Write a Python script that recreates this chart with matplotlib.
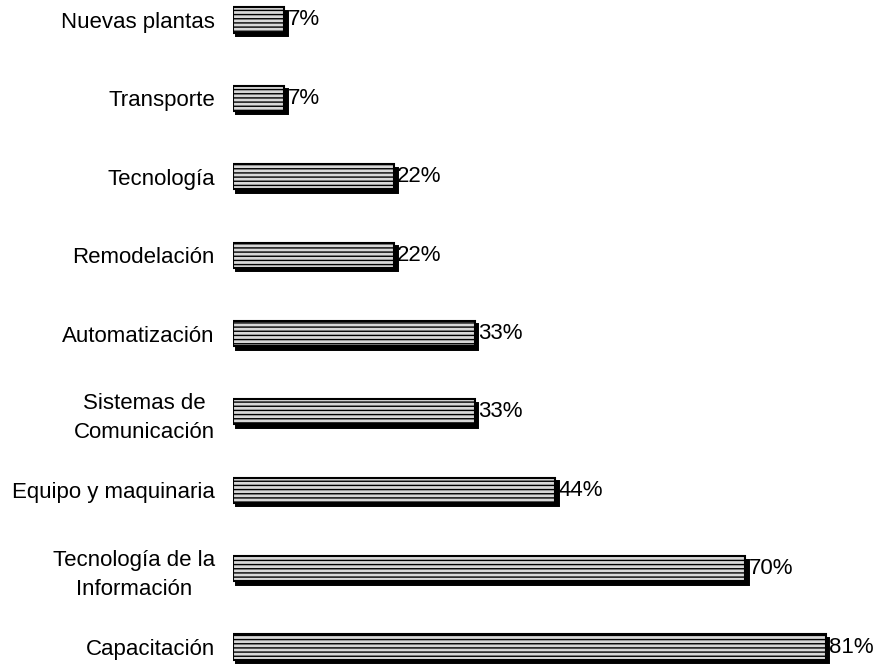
import matplotlib
matplotlib.use("Agg")
import matplotlib.pyplot as plt
import matplotlib.transforms as mtransforms

categories = ["Capacitación", "Tecnología de la\nInformación", "Equipo y maquinaria",
              "Sistemas de\nComunicación", "Automatización", "Remodelación",
              "Tecnología", "Transporte", "Nuevas plantas"]
values = [81, 70, 44, 33, 33, 22, 22, 7, 7]

plt.rcParams["font.family"] = ["Liberation Sans", "DejaVu Sans"]
plt.rcParams["hatch.color"] = "#707070"
plt.rcParams["hatch.linewidth"] = 1.0

fig = plt.figure(figsize=(8.79, 6.66), dpi=100)
ax = fig.add_axes([233 / 879, 0, 646 / 879, 1])

ypos = list(range(len(values)))
bar_h = 0.32

# drop shadow: same bars, shifted right/down by a few points
shadow_tf = ax.transData + mtransforms.ScaledTranslation(2.5 / 72, -2.5 / 72, fig.dpi_scale_trans)
ax.barh(ypos, values, height=bar_h, color="black", edgecolor="black",
        linewidth=1.4, transform=shadow_tf, zorder=1)
ax.barh(ypos, values, height=bar_h, color="#d8d8d8", edgecolor="black",
        linewidth=1.5, hatch="----", zorder=2)

for y, v in zip(ypos, values):
    ax.text(v + 0.45, y, f"{v}%", va="center", ha="left", fontsize=16, zorder=3)

ax.set_xlim(0, 88.25)
ax.set_ylim(-0.242, 8.255)
ax.set_yticks(ypos)
ax.set_yticklabels(categories, fontsize=16, multialignment="center", linespacing=1.5)
ax.tick_params(axis="y", length=0, pad=13)
ax.set_xticks([])
for s in ax.spines.values():
    s.set_visible(False)

fig.savefig("out.png", dpi=100)
